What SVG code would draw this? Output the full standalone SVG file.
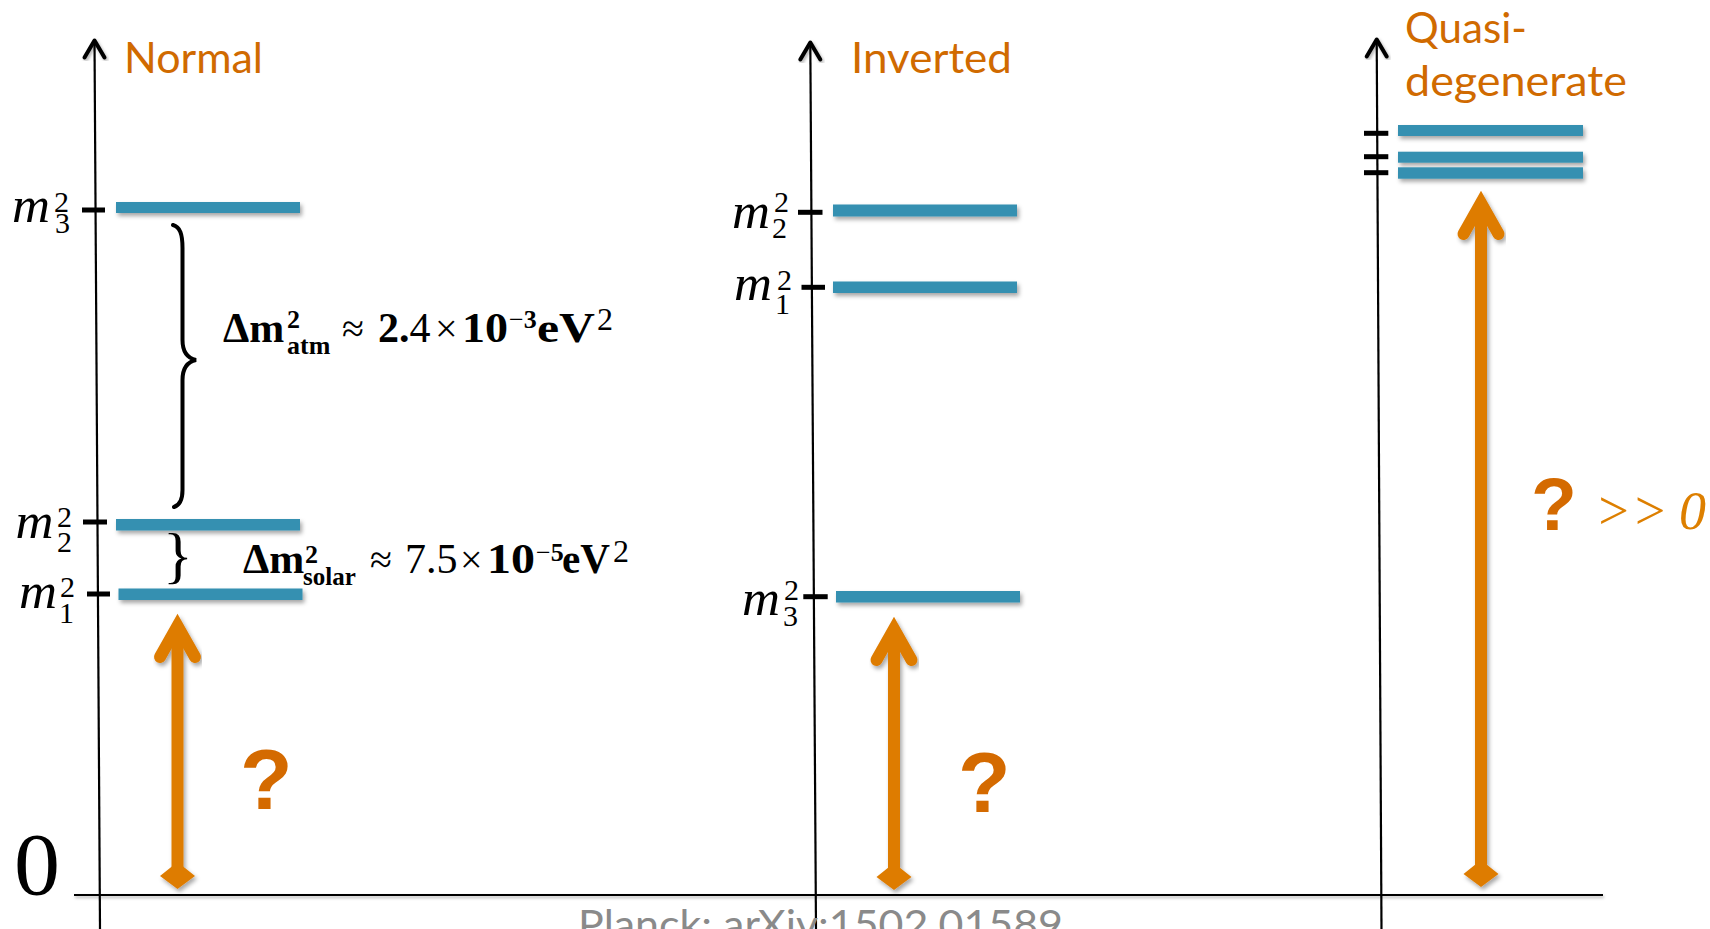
<svg xmlns="http://www.w3.org/2000/svg" width="1710" height="929" viewBox="0 0 1710 929">
<defs>
<filter id="sh" x="-20%" y="-50%" width="140%" height="250%">
<feDropShadow dx="2" dy="3" stdDeviation="2" flood-color="#000" flood-opacity="0.35"/>
</filter>
<filter id="shs" x="-20%" y="-20%" width="140%" height="140%">
<feDropShadow dx="1.5" dy="2" stdDeviation="1.5" flood-color="#000" flood-opacity="0.3"/>
</filter>
<filter id="shl" filterUnits="userSpaceOnUse" x="60" y="885" width="1560" height="25">
<feDropShadow dx="1" dy="2" stdDeviation="1.5" flood-color="#000" flood-opacity="0.3"/>
</filter>
</defs>
<style>
.bar{fill:#3590B1;filter:url(#sh)}
.tick{fill:#000}
.axis{stroke:#000;stroke-width:2.2;fill:none}
.ahead{stroke:#000;stroke-width:4;fill:none;stroke-linecap:round;stroke-linejoin:round;filter:url(#shs)}
.shaft{stroke:#DE7C00;stroke-width:12;fill:none}
.chev{stroke:#DE7C00;stroke-width:12;fill:none;stroke-linecap:round;stroke-linejoin:miter;stroke-miterlimit:10}
.dia{fill:#DE7C00}
.oarrow{filter:url(#sh)}
.title{font-family:Lato,'Open Sans',sans-serif;font-size:42px;fill:#D06A00}
.q{font-family:'Liberation Sans',Arial,sans-serif;font-weight:bold;fill:#D46A00}
.mi{font-family:'Liberation Serif','Times New Roman',serif;font-style:italic;font-size:50px;fill:#000}
.ms{font-family:'Liberation Serif','Times New Roman',serif;font-size:30px;fill:#000}
.eq{font-family:'Liberation Serif','Times New Roman',serif;fill:#000}
.b{font-weight:bold}
</style>

<!-- axes -->
<g id="axis-normal">
<line class="axis" x1="94.5" y1="40" x2="100" y2="929"/>
<polyline class="ahead" points="84.5,57.5 94.5,40.5 104.5,57.5"/>
<text class="title" x="124" y="73" textLength="139" lengthAdjust="spacingAndGlyphs">Normal</text>
</g>
<g id="axis-inverted">
<line class="axis" x1="810.3" y1="42" x2="816" y2="929"/>
<polyline class="ahead" points="800.3,59.5 810.3,42.5 820.3,59.5"/>
<text class="title" x="851" y="73" textLength="161" lengthAdjust="spacingAndGlyphs">Inverted</text>
</g>
<g id="axis-quasi">
<line class="axis" x1="1376.7" y1="39" x2="1381.5" y2="929"/>
<polyline class="ahead" points="1366.7,56.5 1376.7,39.5 1386.7,56.5"/>
<text class="title" x="1405" y="43" textLength="122" lengthAdjust="spacingAndGlyphs">Quasi-</text>
<text class="title" x="1405" y="96" textLength="222" lengthAdjust="spacingAndGlyphs">degenerate</text>
</g>
<g id="zero-line">
<line x1="74" y1="895" x2="1603" y2="895" stroke="#000" stroke-width="1.8" filter="url(#shl)"/>
<text x="14" y="894" textLength="46" lengthAdjust="spacingAndGlyphs" style="font-family:'Liberation Serif','Times New Roman',serif;font-size:88px;fill:#000">0</text>
</g>

<!-- Normal ordering -->
<g id="normal-m3">
<rect class="tick" x="82" y="207.5" width="23" height="5"/>
<rect class="bar" x="116" y="202" width="184" height="11"/>
<text class="mi" x="12" y="222" textLength="38" lengthAdjust="spacingAndGlyphs">m</text>
<text class="ms" x="54" y="211.5">2</text>
<text class="ms" x="55" y="233">3</text>
</g>
<g id="normal-m2">
<rect class="tick" x="83" y="519.5" width="24" height="5"/>
<rect class="bar" x="116" y="519" width="184" height="11.5"/>
<text class="mi" x="15.5" y="538" textLength="38" lengthAdjust="spacingAndGlyphs">m</text>
<text class="ms" x="57" y="526.5">2</text>
<text class="ms" x="57" y="551.5">2</text>
</g>
<g id="normal-m1">
<rect class="tick" x="87" y="591.5" width="23" height="5"/>
<rect class="bar" x="118.5" y="588.5" width="184" height="11.5"/>
<text class="mi" x="19" y="608" textLength="38" lengthAdjust="spacingAndGlyphs">m</text>
<text class="ms" x="60" y="596.5">2</text>
<text class="ms" x="59" y="623">1</text>
</g>
<g id="brace-atm">
<path d="M173,225 C180,227 182.5,234 182.5,248 L182.5,340 C182.5,352 187,358 196,360 C187,362 182.5,368 182.5,380 L182.5,490 C182.5,500 180,505 174,507" fill="none" stroke="#000" stroke-width="4" stroke-linecap="round"/>
</g>
<g id="label-atm" class="eq">
<text y="341.7" class="b" x="223" style="font-size:42px">Δm</text>
<text y="327.5" class="b" x="287" style="font-size:26px">2</text>
<text y="354" class="b" x="287" style="font-size:26px">atm</text>
<text y="341.7" x="342" style="font-size:40px">≈</text>
<text y="341.7" style="font-size:42px"><tspan class="b" x="378">2.</tspan><tspan>4</tspan></text>
<text y="341.7" x="435" style="font-size:40px">×</text>
<text y="341.7" class="b" x="462" style="font-size:42px" textLength="46" lengthAdjust="spacingAndGlyphs">10</text>
<text y="327.5" x="509" style="font-size:26px">−<tspan class="b">3</tspan></text>
<text y="341.7" class="b" x="537" style="font-size:42px" textLength="58" lengthAdjust="spacingAndGlyphs">eV</text>
<text y="330" x="597" style="font-size:32px">2</text>
</g>
<g id="brace-solar">
<text x="163" y="576" style="font-family:'Liberation Serif','Times New Roman',serif;font-size:62px;fill:#000">}</text>
</g>
<g id="label-solar" class="eq">
<text y="573.3" class="b" x="243" style="font-size:42px">Δm</text>
<text y="562.5" class="b" x="305" style="font-size:26px">2</text>
<text y="585" class="b" x="303" style="font-size:25px">solar</text>
<text y="573.3" x="370" style="font-size:40px">≈</text>
<text y="573.3" x="405" style="font-size:42px">7.5</text>
<text y="573.3" x="460" style="font-size:40px">×</text>
<text y="573.3" class="b" x="487" style="font-size:42px" textLength="48" lengthAdjust="spacingAndGlyphs">10</text>
<text y="560.5" x="536" style="font-size:26px">−<tspan class="b">5</tspan></text>
<text y="573.3" class="b" x="562" style="font-size:42px" textLength="48" lengthAdjust="spacingAndGlyphs">eV</text>
<text y="562" x="613" style="font-size:32px">2</text>
</g>

<!-- Inverted ordering -->
<g id="inverted-m2">
<rect class="tick" x="798" y="209.8" width="24.5" height="5"/>
<rect class="bar" x="833" y="204.5" width="184" height="12"/>
<text class="mi" x="732" y="228.3" textLength="38" lengthAdjust="spacingAndGlyphs">m</text>
<text class="ms" x="774" y="211.7">2</text>
<text class="ms" x="772" y="238">2</text>
</g>
<g id="inverted-m1">
<rect class="tick" x="801.5" y="284.8" width="23.5" height="5"/>
<rect class="bar" x="833" y="281.5" width="184" height="11.5"/>
<text class="mi" x="734" y="300" textLength="38" lengthAdjust="spacingAndGlyphs">m</text>
<text class="ms" x="777" y="290">2</text>
<text class="ms" x="775" y="314">1</text>
</g>
<g id="inverted-m3">
<rect class="tick" x="803.3" y="594.2" width="24.4" height="5"/>
<rect class="bar" x="836" y="591" width="184" height="11.5"/>
<text class="mi" x="742" y="615" textLength="38" lengthAdjust="spacingAndGlyphs">m</text>
<text class="ms" x="784" y="600">2</text>
<text class="ms" x="783" y="626">3</text>
</g>

<!-- Quasi-degenerate -->
<g id="quasi-levels">
<rect class="tick" x="1364" y="130.8" width="24.3" height="5"/>
<rect class="tick" x="1364" y="154.2" width="24.3" height="5"/>
<rect class="tick" x="1364" y="170.2" width="24.3" height="5"/>
<rect class="bar" x="1398" y="125" width="185" height="11"/>
<rect class="bar" x="1398" y="151.7" width="185" height="11"/>
<rect class="bar" x="1398" y="167.3" width="185" height="11.4"/>
</g>

<!-- orange arrows -->
<g id="connectors">
<g class="oarrow" id="arrow-normal">
<line class="shaft" x1="177.5" y1="628" x2="177.5" y2="870"/>
<polyline class="chev" points="160,657 177.5,626 195,657"/>
<polygon class="dia" points="177.5,862 195,876 177.5,889 160,876"/>
</g>
<g class="oarrow" id="arrow-inverted">
<line class="shaft" x1="894" y1="631" x2="894" y2="870"/>
<polyline class="chev" points="876.5,660 894,629 911.5,660"/>
<polygon class="dia" points="894,863 911.5,877 894,890 876.5,877"/>
</g>
<g class="oarrow" id="arrow-quasi">
<line class="shaft" x1="1481" y1="205" x2="1481" y2="868"/>
<polyline class="chev" points="1463.5,234 1481,203 1498.5,234"/>
<polygon class="dia" points="1481,860 1498.5,874 1481,887 1463.5,874"/>
</g>
</g>

<g id="q-normal"><text class="q" x="240" y="809" style="font-size:86px">?</text></g>
<g id="q-inverted"><text class="q" x="958" y="812" style="font-size:86px">?</text></g>
<g id="q-quasi">
<text class="q" x="1531" y="530" style="font-size:75px">?</text>
<text x="1595" y="529" style="font-family:'Liberation Serif','Times New Roman',serif;font-style:italic;font-size:54px;fill:#DD7F00">&gt;&gt;</text>
<text x="1679" y="529" style="font-family:'Liberation Serif','Times New Roman',serif;font-style:italic;font-size:54px;fill:#DD7F00">0</text>
</g>

<g id="citation">
<text x="578" y="939" textLength="485" lengthAdjust="spacingAndGlyphs" style="font-family:Lato,'Open Sans',sans-serif;font-size:40px;fill:#8a8a8a">Planck: arXiv:1502.01589</text>
</g>
</svg>
